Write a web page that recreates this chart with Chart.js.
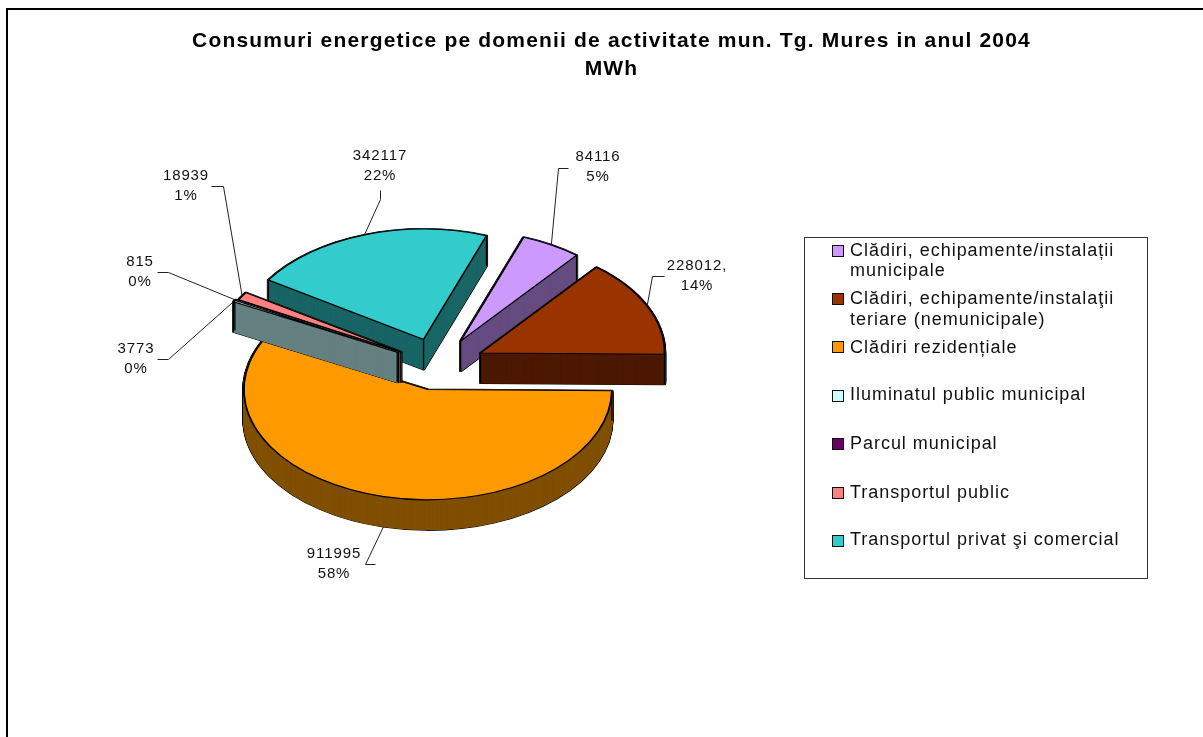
<!DOCTYPE html>
<html>
<head>
<meta charset="utf-8">
<script src="https://cdn.jsdelivr.net/npm/chart.js@4"></script>
<style>html,body{margin:0;padding:0;background:#fff}canvas{display:block}</style>
</head>
<body>
<canvas id="c" width="1203" height="737"></canvas>
<script>
const titleLines = ['Consumuri energetice pe domenii de activitate mun. Tg. Mures in anul 2004', 'MWh'];
const categories = [
  ['Clădiri, echipamente/instalații', 'municipale'],
  ['Clădiri, echipamente/instalaţii', 'teriare (nemunicipale)'],
  ['Clădiri rezidențiale'],
  ['Iluminatul public municipal'],
  ['Parcul municipal'],
  ['Transportul public'],
  ['Transportul privat şi comercial']
];
const values = [84116, 228012, 911995, 3773, 815, 18939, 342117];
const percents = ['5%', '14%', '58%', '0%', '0%', '1%', '22%'];
const valueSuffix = ['', ',', '', '', '', '', ''];
const faceColors = ['#CC99FF', '#993300', '#FF9900', '#CCFFFF', '#660066', '#FF8080', '#33CCCC'];
const wallColors = ['#664D80', '#4D1A00', '#805000', '#668080', '#330033', '#804040', '#1A6666'];

// layout of the drawing
const view = {cx: 438, cy: 365, squash: 0.6, depth: 30, radius: 184, rotation: 20};
const explodeBy = [46, 47, 42, 46, 46, 43, 45];
const paintOrder = [6, 0, 1, 2, 5, 4, 3];
const labelLayout = [
  {tx: 598, ty: 157, path: [[568, 168], [558, 168]]},
  {tx: 697, ty: 266, path: [[664, 276], [652, 276]]},
  {tx: 334, ty: 554, path: [[375, 564], [365, 564]]},
  {tx: 136, ty: 349, path: [[157, 359], [168, 359]]},
  {tx: 140, ty: 262, path: [[157, 272], [168, 272]]},
  {tx: 186, ty: 176, path: [[211, 186], [223, 186]]},
  {tx: 380, ty: 156, path: [[380, 190], [380, 199]]}
];
const legendLayout = {
  box: [804, 237, 343, 341], markerX: 832, markerSize: 11, textX: 850,
  rows: [{m: 251, t: [251, 271]}, {m: 299, t: [299, 320]}, {m: 347, t: [348]},
         {m: 396, t: [395]}, {m: 444, t: [444]}, {m: 493, t: [493]}, {m: 541, t: [540]}]
};
const LABEL_FONT = '15px "Liberation Sans", Arial, sans-serif';
const LEGEND_FONT = '18px "Liberation Sans", Arial, sans-serif';

function arcView(arc, overrides) {
  const v = Object.create(arc);
  v.options = Object.assign({}, arc.options, overrides);
  return v;
}

const pie3d = {
  id: 'pie3d',
  beforeDraw(chart) {
    const ctx = chart.ctx;
    ctx.save();
    ctx.fillStyle = '#000';
    ctx.fillRect(6, 8, 1197, 2);
    ctx.fillRect(6, 8, 2, 729);
    ctx.restore();
    ctx.letterSpacing = '1.18px';
  },
  beforeDatasetDraw() { return false; },
  afterDatasetsDraw(chart) {
    const ctx = chart.ctx;
    const arcs = chart.getDatasetMeta(0).data;
    const midOf = arc => (arc.startAngle + arc.endAngle) / 2;
    const place = (arc, i, d) => {
      const mid = midOf(arc);
      ctx.translate(view.cx, view.cy + d);
      ctx.scale(1, view.squash);
      ctx.translate(Math.cos(mid) * explodeBy[i] - arc.x, Math.sin(mid) * explodeBy[i] - arc.y);
    };
    const project = (arc, i, ang, r, d) => {
      const mid = midOf(arc);
      return [view.cx + Math.cos(mid) * explodeBy[i] + Math.cos(ang) * r,
              view.cy + d + (Math.sin(mid) * explodeBy[i] + Math.sin(ang) * r) * view.squash];
    };
    paintOrder.forEach(i => {
      const arc = arcs[i];
      // silhouette outline of the extruded slice
      const outline = arcView(arc, {backgroundColor: '#000', borderColor: '#000', borderWidth: 3.4, borderJoinStyle: 'round'});
      for (let d = view.depth; d >= 0; d--) { ctx.save(); place(arc, i, d); outline.draw(ctx); ctx.restore(); }
      // wall fill
      const wall = arcView(arc, {backgroundColor: wallColors[i], borderColor: wallColors[i], borderWidth: 1.6, borderJoinStyle: 'round'});
      for (let d = view.depth; d >= 0; d -= 0.25) { ctx.save(); place(arc, i, d); wall.draw(ctx); ctx.restore(); }
      // vertical edges
      ctx.save();
      ctx.strokeStyle = '#000';
      ctx.lineWidth = 1.3;
      [[arc.startAngle, arc.outerRadius], [arc.endAngle, arc.outerRadius], [0, 0]].forEach(([a, r]) => {
        const p = project(arc, i, a, r, 0);
        ctx.beginPath(); ctx.moveTo(p[0], p[1]); ctx.lineTo(p[0], p[1] + view.depth); ctx.stroke();
      });
      ctx.restore();
      // top face
      const top = arcView(arc, {borderColor: '#000', borderWidth: 1.8, borderJoinStyle: 'round'});
      ctx.save(); place(arc, i, 0); top.draw(ctx); ctx.restore();
    });

    // data labels and leader lines
    ctx.save();
    ctx.font = LABEL_FONT;
    ctx.letterSpacing = '0.9px';
    ctx.textAlign = 'center';
    ctx.textBaseline = 'middle';
    values.forEach((v, i) => {
      const arc = arcs[i], l = labelLayout[i];
      const mid = midOf(arc);
      const front = Math.sin(mid) > 0.5;
      const tip = project(arc, i, mid, arc.outerRadius, front ? view.depth : 0);
      ctx.strokeStyle = '#222';
      ctx.lineWidth = 1;
      ctx.beginPath();
      l.path.forEach((p, k) => k ? ctx.lineTo(p[0] + .5, p[1] + .5) : ctx.moveTo(p[0] + .5, p[1] + .5));
      ctx.lineTo(tip[0], tip[1]);
      ctx.stroke();
      ctx.fillStyle = '#111';
      ctx.fillText(v + valueSuffix[i], l.tx, l.ty);
      ctx.fillText(percents[i], l.tx, l.ty + 20);
    });
    ctx.restore();

    // legend
    ctx.save();
    const L = legendLayout;
    ctx.strokeStyle = '#333';
    ctx.lineWidth = 1;
    ctx.strokeRect(L.box[0] + .5, L.box[1] + .5, L.box[2], L.box[3]);
    ctx.font = LEGEND_FONT;
    ctx.letterSpacing = '0.97px';
    ctx.textAlign = 'left';
    ctx.textBaseline = 'middle';
    categories.forEach((lines, i) => {
      const r = L.rows[i];
      ctx.fillStyle = faceColors[i];
      ctx.fillRect(L.markerX + .5, r.m - 5.5, L.markerSize, L.markerSize);
      ctx.strokeStyle = '#111';
      ctx.strokeRect(L.markerX + .5, r.m - 5.5, L.markerSize, L.markerSize);
      ctx.fillStyle = '#111';
      lines.forEach((t, k) => ctx.fillText(t, L.textX, r.t[k]));
    });
    ctx.restore();
  }
};

new Chart(document.getElementById('c'), {
  type: 'pie',
  data: {
    labels: categories.map(c => c.join(' ')),
    datasets: [{data: values, backgroundColor: faceColors, radius: view.radius, rotation: view.rotation}]
  },
  options: {
    responsive: false,
    animation: false,
    rotation: view.rotation,
    radius: view.radius,
    layout: {padding: {left: 20}},
    plugins: {
      legend: {display: false},
      tooltip: {enabled: false},
      title: {
        display: true,
        text: titleLines,
        color: '#000',
        font: {family: '"Liberation Sans", Arial, sans-serif', size: 21, weight: 'bold', lineHeight: 1.34},
        padding: {top: 27, bottom: 0}
      }
    }
  },
  plugins: [pie3d]
});
</script>
</body>
</html>
